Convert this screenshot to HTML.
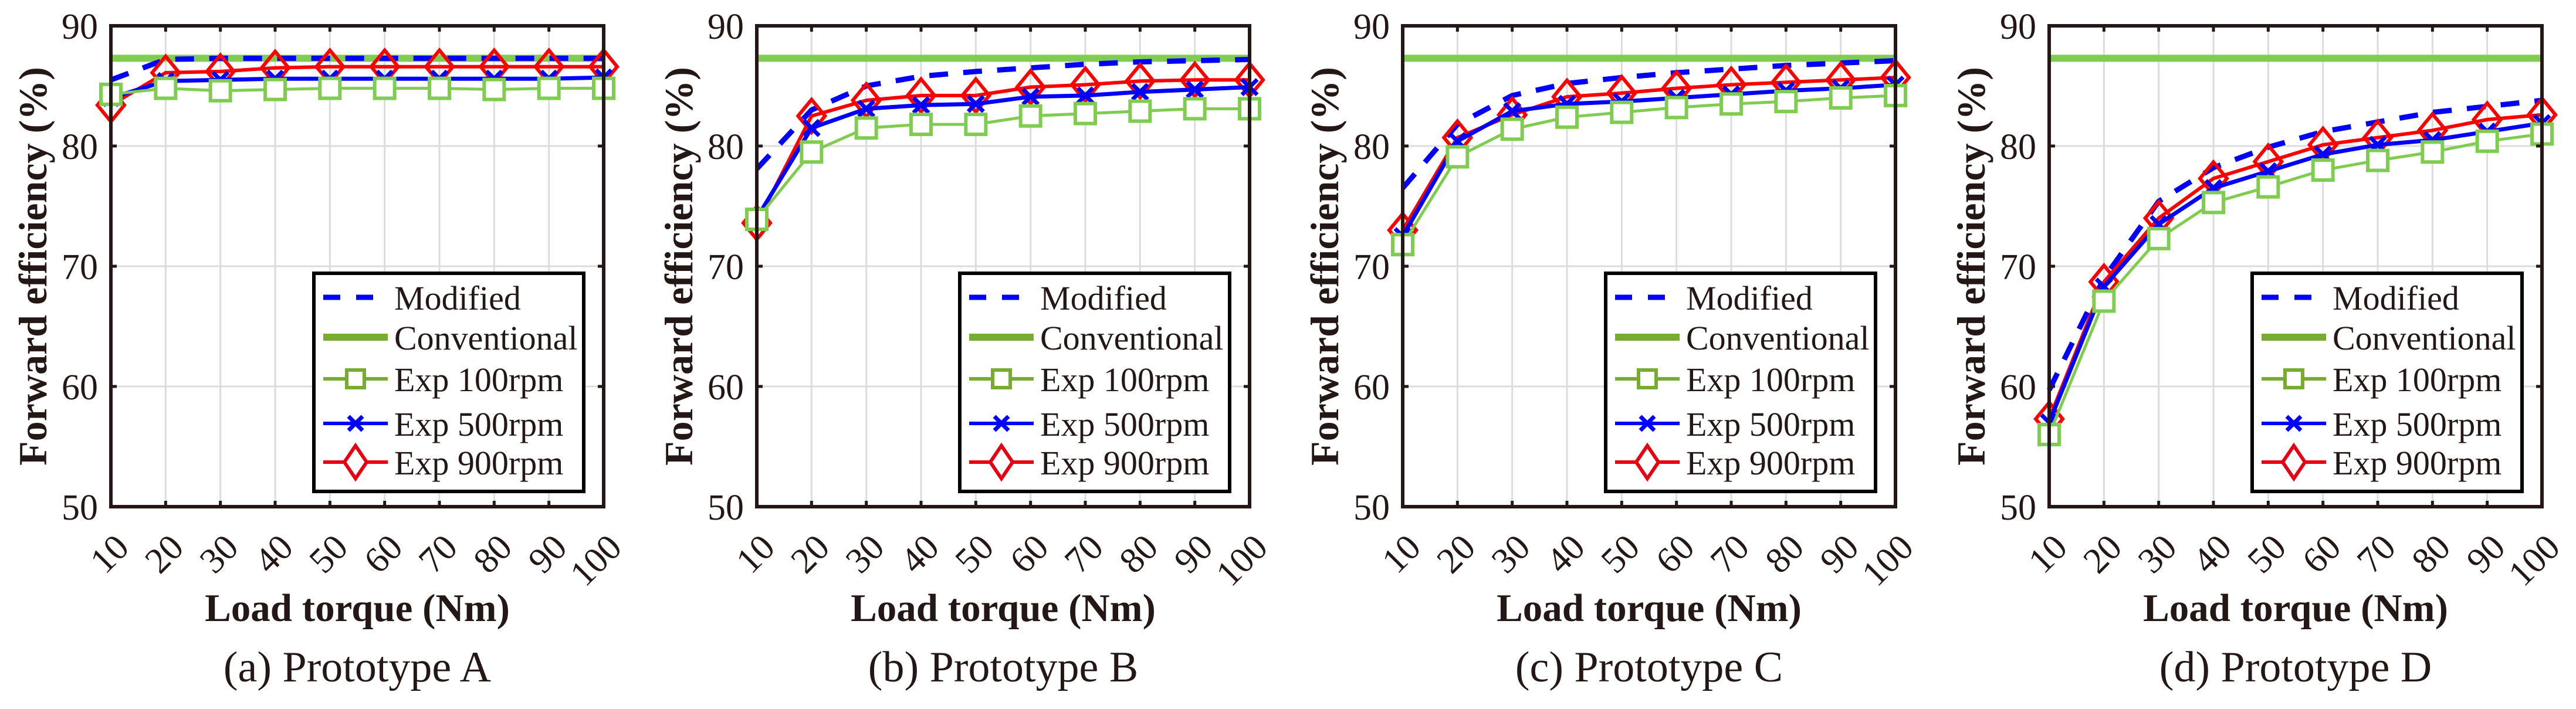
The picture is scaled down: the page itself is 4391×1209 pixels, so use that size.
<!DOCTYPE html>
<html><head><meta charset="utf-8"><style>
html,body{margin:0;padding:0;background:#fff;}
svg{display:block;}
svg text{font-family:"Liberation Serif","Times New Roman",serif;fill:#231815;}
</style></head>
<body>
<svg id="fig" width="4391" height="1209" viewBox="0 0 4391 1209" xmlns="http://www.w3.org/2000/svg" font-family="Liberation Serif, serif"></svg>
<script>
const xCategories = [10,20,30,40,50,60,70,80,90,100];
const yTicks = [50,60,70,80,90];
const captions = ["(a) Prototype A","(b) Prototype B","(c) Prototype C","(d) Prototype D"];
const conventionalA = 87.3, conventionalB = 87.3, conventionalC = 87.3, conventionalD = 87.3;
const modifiedA = [85.5,87.2,87.3,87.3,87.3,87.3,87.3,87.3,87.3,87.3];
const exp100A = [84.3,84.8,84.6,84.7,84.8,84.8,84.8,84.7,84.8,84.8];
const exp500A = [84.0,85.4,85.5,85.6,85.6,85.6,85.6,85.6,85.6,85.7];
const exp900A = [83.4,86.1,86.2,86.5,86.6,86.6,86.6,86.6,86.6,86.6];
const modifiedB = [78.1,83.0,85.0,85.8,86.2,86.5,86.8,87.0,87.1,87.2];
const exp100B = [73.9,79.5,81.5,81.8,81.8,82.5,82.7,82.9,83.1,83.1];
const exp500B = [74.0,81.5,83.1,83.4,83.5,84.1,84.2,84.5,84.7,84.9];
const exp900B = [73.6,82.5,83.8,84.2,84.2,84.9,85.1,85.4,85.5,85.5];
const modifiedC = [76.5,81.8,84.2,85.2,85.7,86.1,86.4,86.7,86.9,87.1];
const exp100C = [71.8,79.1,81.4,82.4,82.8,83.2,83.5,83.7,84.0,84.2];
const exp500C = [72.5,80.4,82.9,83.5,83.7,84.0,84.3,84.6,84.8,85.1];
const exp900C = [73.0,80.7,82.6,84.1,84.4,84.8,85.1,85.3,85.5,85.7];
const modifiedD = [59.7,69.0,75.4,78.2,79.9,81.2,82.0,82.8,83.3,83.8];
const exp100D = [56.0,67.1,72.3,75.3,76.6,78.0,78.8,79.5,80.4,81.0];
const exp500D = [57.0,68.3,73.5,76.5,77.9,79.3,80.1,80.5,81.2,81.9];
const exp900D = [57.3,68.7,74.0,77.3,78.7,80.1,80.7,81.3,82.2,82.6];
const legendLabels = ["Modified","Conventional","Exp 100rpm","Exp 500rpm","Exp 900rpm"];

const panels = [
 {conv:conventionalA, mod:modifiedA, e100:exp100A, e500:exp500A, e900:exp900A},
 {conv:conventionalB, mod:modifiedB, e100:exp100B, e500:exp500B, e900:exp900B},
 {conv:conventionalC, mod:modifiedC, e100:exp100C, e500:exp500C, e900:exp900C},
 {conv:conventionalD, mod:modifiedD, e100:exp100D, e500:exp500D, e900:exp900D}
];
const NS="http://www.w3.org/2000/svg";
const svg=document.getElementById('fig');
const FONT='"Liberation Serif", serif';
function mk(tag,attrs,parent){const e=document.createElementNS(NS,tag);for(const k in attrs)e.setAttribute(k,attrs[k]);if(tag==='text')e.setAttribute('font-family',FONT);(parent||svg).appendChild(e);return e;}
const GREEN="#80CC50", BLUE="#0000FF", RED="#FF0000", AX="#231815";
const lefts=[189,1290,2391,3493], W=840, TOP=44, BOT=864;
function markerSquare(g,x,y,s){const r=mk('rect',{x:x-s/2,y:y-s/2,width:s,height:s,fill:'#fff',stroke:GREEN,'stroke-width':6},g);}
function markerX(g,x,y,s){const p=mk('path',{d:`M${x-s/2},${y-s/2}L${x+s/2},${y+s/2}M${x-s/2},${y+s/2}L${x+s/2},${y-s/2}`,stroke:BLUE,'stroke-width':7,fill:'none'},g);}
function markerD(g,x,y,w,h){const p=mk('path',{d:`M${x},${y-h/2}L${x+w/2},${y}L${x},${y+h/2}L${x-w/2},${y}Z`,stroke:RED,'stroke-width':6,fill:'none'},g);}

panels.forEach((P,pi)=>{
  const L=lefts[pi];
  const xs=v=>L+(v-10)/90*W;
  const ys=v=>TOP+(90-v)/40*(BOT-TOP);
  const g=mk('g',{});
  
  
  xCategories.forEach(c=>{const l=mk('line',{x1:xs(c),x2:xs(c),y1:TOP,y2:BOT,stroke:'#dcdcdc','stroke-width':3},g);});
  yTicks.forEach(t=>{const l=mk('line',{x1:L,x2:L+W,y1:ys(t),y2:ys(t),stroke:'#dcdcdc','stroke-width':3},g);});
  const conv=mk('line',{x1:xs(10),x2:xs(100),y1:ys(P.conv),y2:ys(P.conv),stroke:GREEN,'stroke-width':12},g);
  
  const pts=a=>a.map((v,i)=>xs(xCategories[i])+','+ys(v)).join(' ');
  const mod=mk('polyline',{points:pts(P.mod),fill:'none',stroke:BLUE,'stroke-width':9,'stroke-dasharray':'32 26'},g);
  
  const l9=mk('polyline',{points:pts(P.e900),fill:'none',stroke:RED,'stroke-width':6},g);
  
  P.e900.forEach((v,i)=>markerD(g,xs(xCategories[i]),ys(v),46,56));
  const l5=mk('polyline',{points:pts(P.e500),fill:'none',stroke:BLUE,'stroke-width':7},g);
  
  P.e500.forEach((v,i)=>markerX(g,xs(xCategories[i]),ys(v),26));
  const l1=mk('polyline',{points:pts(P.e100),fill:'none',stroke:GREEN,'stroke-width':5},g);
  
  P.e100.forEach((v,i)=>markerSquare(g,xs(xCategories[i]),ys(v),34));
  const box=mk('rect',{x:L,y:TOP,width:W,height:BOT-TOP,fill:'none',stroke:AX,'stroke-width':6},g);
  
  xCategories.forEach(c=>{
    mk('line',{x1:xs(c),x2:xs(c),y1:BOT,y2:BOT-10,stroke:AX,'stroke-width':5},g);
    mk('line',{x1:xs(c),x2:xs(c),y1:TOP,y2:TOP+10,stroke:AX,'stroke-width':5},g);
    const t=mk('text',{x:0,y:0,transform:`translate(${xs(c)+34},${BOT+73}) rotate(-45)`,'text-anchor':'end','font-size':62},g);
    t.textContent=c;
  });
  yTicks.forEach(v=>{
    mk('line',{x1:L,x2:L+10,y1:ys(v),y2:ys(v),stroke:AX,'stroke-width':5},g);
    mk('line',{x1:L+W,x2:L+W-10,y1:ys(v),y2:ys(v),stroke:AX,'stroke-width':5},g);
    const t=mk('text',{x:L-22,y:ys(v)+22,'text-anchor':'end','font-size':62},g);
    t.textContent=v;
  });
  const yl=mk('text',{x:0,y:0,transform:`translate(${L-110},${(TOP+BOT)/2}) rotate(-90)`,'text-anchor':'middle','font-size':68,'font-weight':'bold'},g);
  yl.textContent='Forward efficiency (%)';
  const xl=mk('text',{x:L+W/2,y:1059,'text-anchor':'middle','font-size':67,'font-weight':'bold'},g);
  xl.textContent='Load torque (Nm)';
  const cp=mk('text',{x:L+W/2,y:1162,'text-anchor':'middle','font-size':74},g);
  cp.textContent=captions[pi];
  const lg=mk('g',{},g);
  const lx=L+346, ly=466;
  mk('rect',{x:lx,y:ly,width:460,height:372,fill:'#fff',stroke:'#000','stroke-width':6},lg);
  const rowY=[507,575,646,722,788];
  const s0=lx+16, s1=lx+126, sm=(s0+s1)/2;
  legendLabels.forEach((lab,i)=>{
    const y=rowY[i];
    const e=mk('g',{},lg);
    if(i===0){mk('line',{x1:s0,x2:s1,y1:y,y2:y,stroke:BLUE,'stroke-width':9,'stroke-dasharray':'29 27'},e);}
    else if(i===1){mk('line',{x1:s0,x2:s1,y1:y,y2:y,stroke:'#78AC30','stroke-width':12},e);}
    else if(i===2){mk('line',{x1:s0,x2:s1,y1:y,y2:y,stroke:'#78AC30','stroke-width':6},e);mk('rect',{x:sm-15,y:y-15,width:30,height:30,fill:'#fff',stroke:'#78AC30','stroke-width':6},e);}
    else if(i===3){mk('line',{x1:s0,x2:s1,y1:y,y2:y,stroke:BLUE,'stroke-width':6},e);mk('path',{d:`M${sm-12},${y-12}L${sm+12},${y+12}M${sm-12},${y+12}L${sm+12},${y-12}`,stroke:BLUE,'stroke-width':7},e);}
    else {mk('line',{x1:s0,x2:s1,y1:y,y2:y,stroke:'#E60012','stroke-width':6},e);mk('path',{d:`M${sm},${y-28}L${sm+19},${y}L${sm},${y+28}L${sm-19},${y}Z`,fill:'#fff',stroke:'#E60012','stroke-width':6},e);}
    const t=mk('text',{x:lx+137,y:y+21,'font-size':58,fill:'#000'},e);t.textContent=lab;
  });
});
</script>
</body></html>
